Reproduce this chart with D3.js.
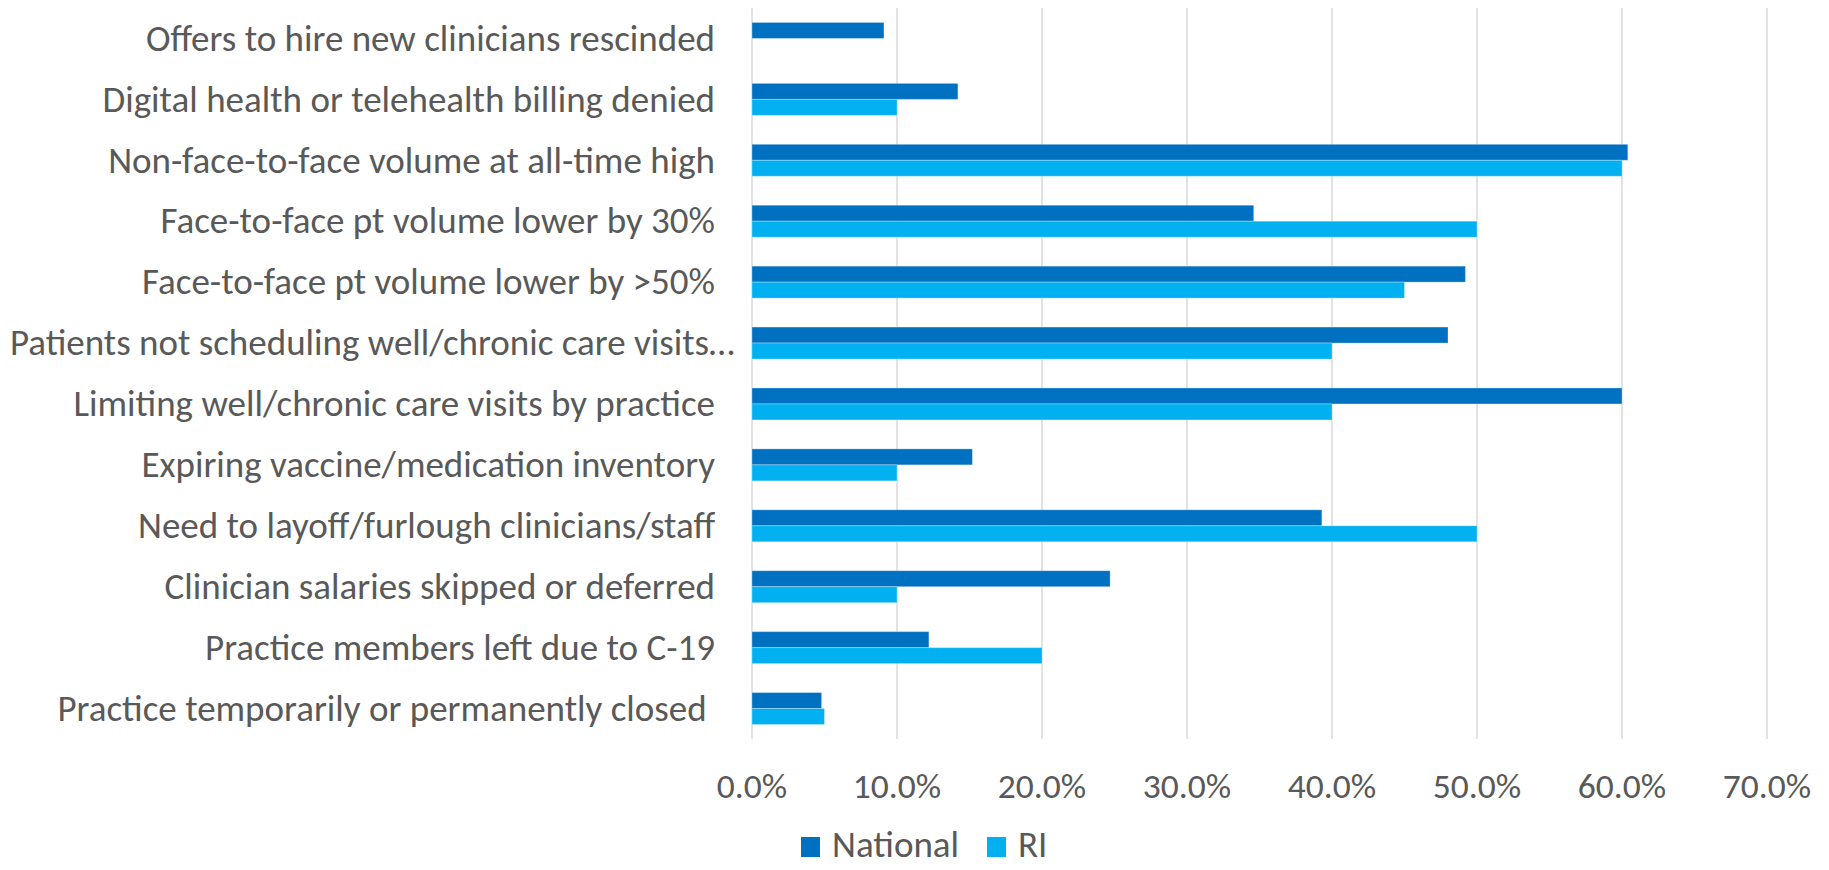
<!DOCTYPE html>
<html>
<head>
<meta charset="utf-8">
<script src="https://cdn.jsdelivr.net/npm/d3@7"></script>
<style>
  html, body { margin: 0; padding: 0; background: #fff; }
  svg text { font-family: Carlito, Calibri, Lato, sans-serif; fill: #595959; white-space: pre; }
</style>
</head>
<body>
<svg id="chart" width="1829" height="870"></svg>
<script>

// categories, top to bottom
var categories = [
    "Offers to hire new clinicians rescinded",
    "Digital health or telehealth billing denied",
    "Non-face-to-face volume at all-time high",
    "Face-to-face pt volume lower by 30%",
    "Face-to-face pt volume lower by >50%",
    "Patients not scheduling well/chronic care visits\u2026",
    "Limiting well/chronic care visits by practice",
    "Expiring vaccine/medication inventory",
    "Need to layoff/furlough clinicians/staff",
    "Clinician salaries skipped or deferred",
    "Practice members left due to C-19",
    "Practice temporarily or permanently closed "
];

var national = [9.1, 14.2, 60.4, 34.6, 49.2, 48.0, 60.0, 15.2, 39.3, 24.7, 12.2, 4.8];
var ri       = [0,   10.0, 60.0, 50.0, 45.0, 40.0, 40.0, 10.0, 50.0, 10.0, 20.0, 5.0];

var seriesNames  = ["National", "RI"];
var seriesColors = ["#0070C0", "#00B0F0"];
var xTicks = [0, 10, 20, 30, 40, 50, 60, 70];

var margin = {top: 8, left: 752, right: 62, bottom: 131};
var width = 1829, height = 870;
var fontSize = 37;
var tickFontSize = 35.5;
var labelRight = 715, labelLeft = 10;

var svg = d3.select("#chart");

var x = d3.scaleLinear()
    .domain([0, 70])
    .range([margin.left, width - margin.right]);

var y = d3.scaleBand()
    .domain(categories)
    .range([margin.top, height - margin.bottom])
    .paddingInner(0.475)
    .paddingOuter(0.2375);

var ySub = d3.scaleBand()
    .domain(seriesNames)
    .range([0, y.bandwidth()]);

// gridlines
svg.append("g")
    .selectAll("line")
    .data(xTicks)
    .enter().append("line")
    .attr("x1", function(d) { return x(d); })
    .attr("x2", function(d) { return x(d); })
    .attr("y1", margin.top)
    .attr("y2", height - margin.bottom)
    .style("stroke", "#D9D9D9")
    .style("stroke-width", 1.5);

// bars
var rows = categories.map(function(c, i) {
    return {name: c, values: [national[i], ri[i]]};
});

var row = svg.append("g").selectAll("g.row")
    .data(rows)
    .enter().append("g")
    .attr("class", "row")
    .attr("transform", function(d) { return "translate(0," + y(d.name) + ")"; });

row.selectAll("rect")
    .data(function(d) {
        return d.values.map(function(v, j) { return {series: seriesNames[j], value: v, color: seriesColors[j]}; });
    })
    .enter().append("rect")
    .attr("x", x(0))
    .attr("y", function(d) { return ySub(d.series); })
    .attr("width", function(d) { return x(d.value) - x(0); })
    .attr("height", ySub.bandwidth())
    .style("fill", function(d) { return d.color; })
    .style("stroke", function(d) { return d.value > 0 ? "rgba(255,255,255,0.3)" : "none"; })
    .style("stroke-width", 1);

// category labels (right aligned; a label too long for the space starts at the left edge)
var labels = svg.append("g")
    .selectAll("text")
    .data(categories)
    .enter().append("text")
    .attr("x", labelRight)
    .attr("y", function(d) { return y(d) + y.bandwidth() / 2; })
    .attr("dy", "0.33em")
    .attr("text-anchor", "end")
    .style("font-size", fontSize + "px")
    .text(function(d) { return d; });

labels.each(function() {
    var w = this.getComputedTextLength();
    if (w > labelRight - labelLeft) {
        d3.select(this).attr("text-anchor", "start").attr("x", labelLeft);
    }
});

// x tick labels
svg.append("g")
    .selectAll("text")
    .data(xTicks)
    .enter().append("text")
    .attr("x", function(d) { return x(d); })
    .attr("y", 798)
    .attr("text-anchor", "middle")
    .style("font-size", tickFontSize + "px")
    .text(function(d) { return d3.format(".1f")(d) + "%"; });

// legend
var legendX = [801, 987];
var legend = svg.append("g").selectAll("g.legend")
    .data(seriesNames)
    .enter().append("g")
    .attr("class", "legend")
    .attr("transform", function(d, i) { return "translate(" + legendX[i] + ",837)"; });

legend.append("rect")
    .attr("width", 19)
    .attr("height", 20)
    .style("fill", function(d, i) { return seriesColors[i]; });

legend.append("text")
    .attr("x", 31)
    .attr("y", 20)
    .style("font-size", fontSize + "px")
    .text(function(d) { return d; });

</script>
</body>
</html>
